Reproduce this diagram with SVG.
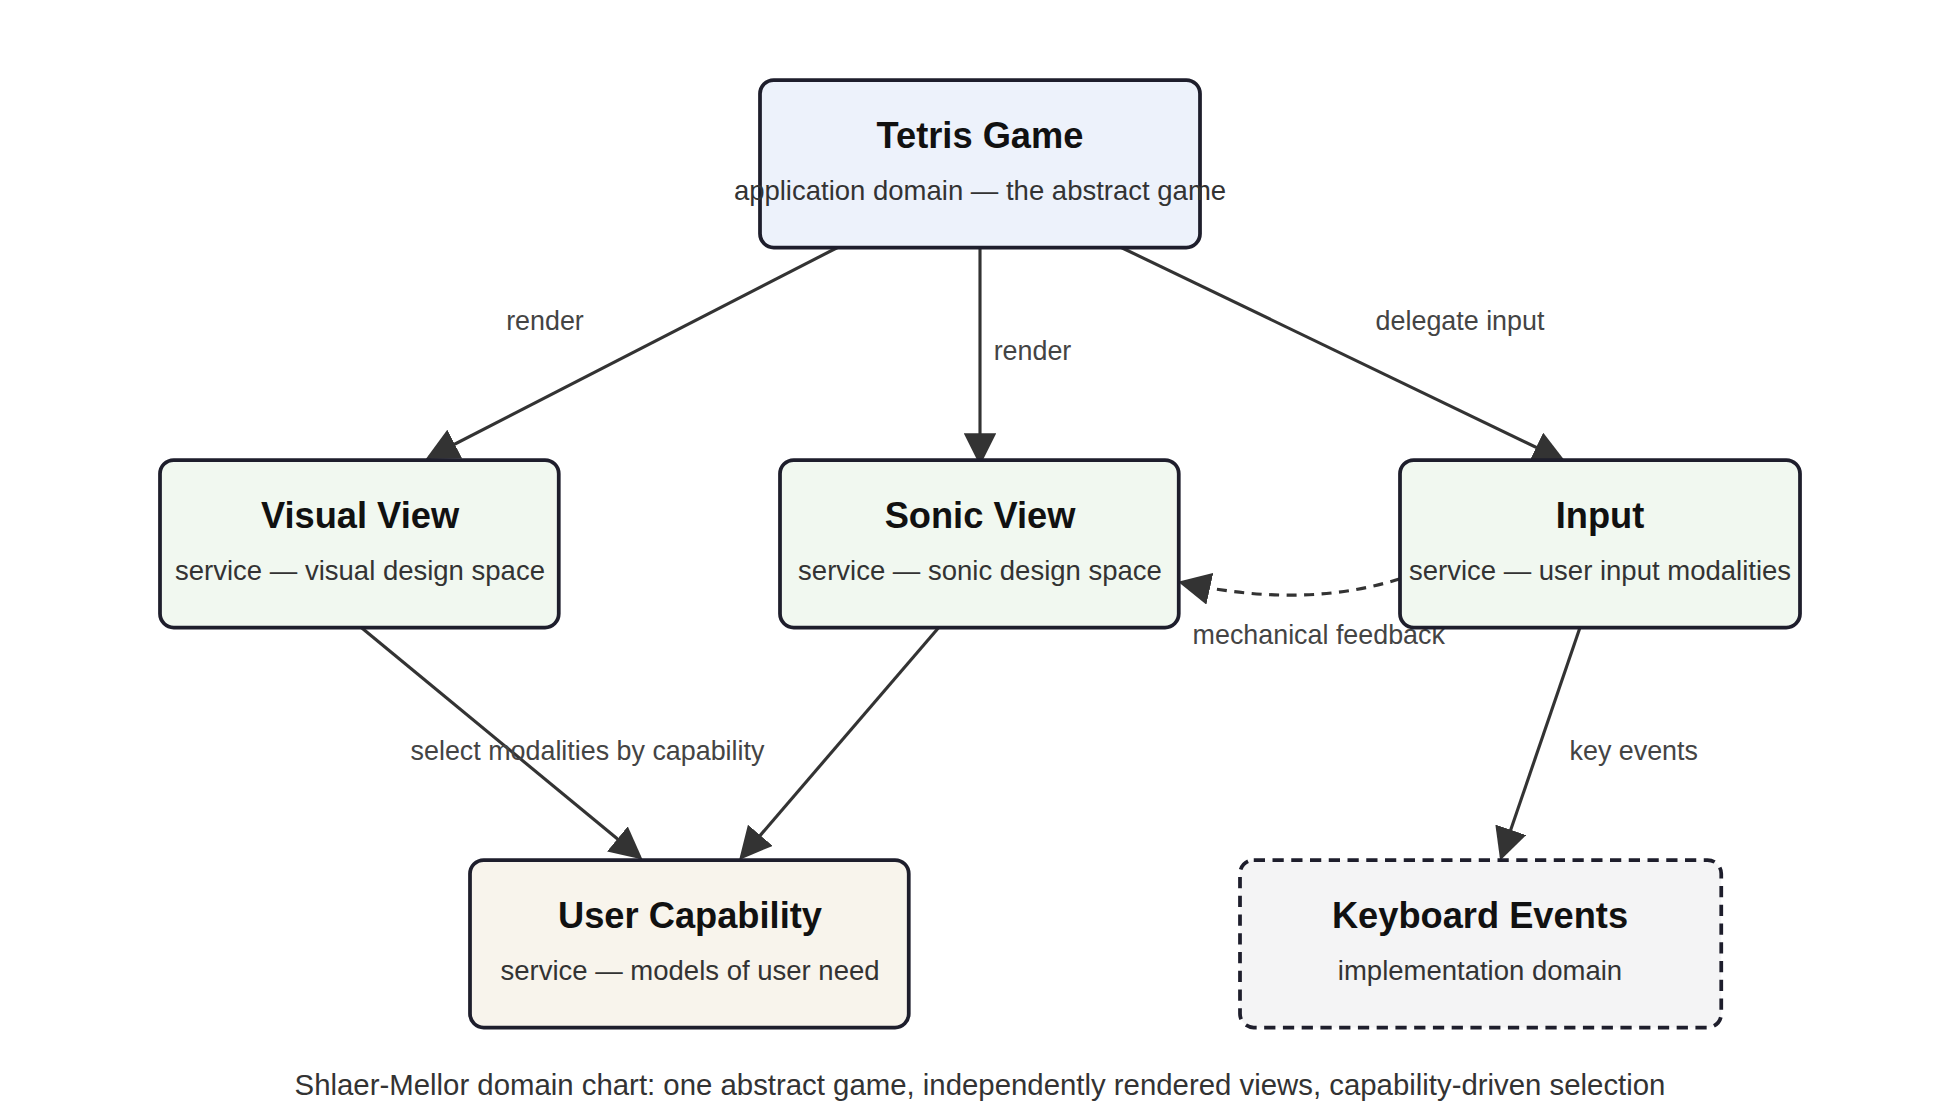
<svg xmlns="http://www.w3.org/2000/svg" width="1960" height="1120" viewBox="0 0 1960 1120">
<defs>
<style>
.box{stroke:#1e1e2c;stroke-width:3}
.t{font-family:"Liberation Sans",Arial,sans-serif;font-weight:bold;font-size:29px;fill:#111;text-anchor:middle}
.s{font-family:"Liberation Sans",Arial,sans-serif;font-size:22px;fill:#333;text-anchor:middle}
.l{font-family:"Liberation Sans",Arial,sans-serif;font-size:21.5px;fill:#444;text-anchor:middle}
.e{stroke:#333;stroke-width:2.5;fill:none}
</style>
<marker id="a" viewBox="0 0 10 10" refX="9" refY="5" markerWidth="26" markerHeight="26" markerUnits="userSpaceOnUse" orient="auto"><path d="M0,0 L10,5 L0,10 z" fill="#333"/></marker>
</defs>
<rect width="1960" height="1120" fill="#fff"/>
<g transform="scale(1.25)">
<g id="connectors">
<path class="e" d="M670,198 L343,366" marker-end="url(#a)"/>
<path class="e" d="M784,198 L784,370" marker-end="url(#a)"/>
<path class="e" d="M897,198 L1250,368" marker-end="url(#a)"/>
<path class="e" d="M1120,463 C1060,482 1000,478 945,466" stroke-dasharray="8,6" marker-end="url(#a)"/>
<path class="e" d="M289,502 L512,686" marker-end="url(#a)"/>
<path class="e" d="M751,502 L593,686" marker-end="url(#a)"/>
<path class="e" d="M1264,502 L1201,686" marker-end="url(#a)"/>
<text class="l" x="436" y="264">render</text>
<text class="l" x="826" y="288">render</text>
<text class="l" x="1168" y="264">delegate input</text>
<text class="l" x="1055" y="515">mechanical feedback</text>
<text class="l" x="470" y="608">select modalities by capability</text>
<text class="l" x="1307" y="608">key events</text>
</g>
<g id="tetris"><rect class="box" x="608" y="64" width="352" height="134" rx="11" fill="#edf2fb"/><text class="t" x="784" y="118">Tetris Game</text><text class="s" x="784" y="160">application domain — the abstract game</text></g>
<g id="visual"><rect class="box" x="128" y="368" width="319" height="134" rx="11" fill="#f1f8f0"/><text class="t" x="288" y="422">Visual View</text><text class="s" x="288" y="464">service — visual design space</text></g>
<g id="sonic"><rect class="box" x="624" y="368" width="319" height="134" rx="11" fill="#f1f8f0"/><text class="t" x="784" y="422">Sonic View</text><text class="s" x="784" y="464">service — sonic design space</text></g>
<g id="input"><rect class="box" x="1120" y="368" width="320" height="134" rx="11" fill="#f1f8f0"/><text class="t" x="1280" y="422">Input</text><text class="s" x="1280" y="464">service — user input modalities</text></g>
<g id="usercap"><rect class="box" x="376" y="688" width="351" height="134" rx="11" fill="#f8f4ec"/><text class="t" x="552" y="742">User Capability</text><text class="s" x="552" y="784">service — models of user need</text></g>
<g id="keyboard"><rect class="box" x="992" y="688" width="385" height="134" rx="11" fill="#f4f4f5" stroke-dasharray="9,6"/><text class="t" x="1184" y="742">Keyboard Events</text><text class="s" x="1184" y="784">implementation domain</text></g>
<text class="s" x="784" y="876" style="font-size:23.5px;fill:#333">Shlaer-Mellor domain chart: one abstract game, independently rendered views, capability-driven selection</text>
</g>
</svg>
